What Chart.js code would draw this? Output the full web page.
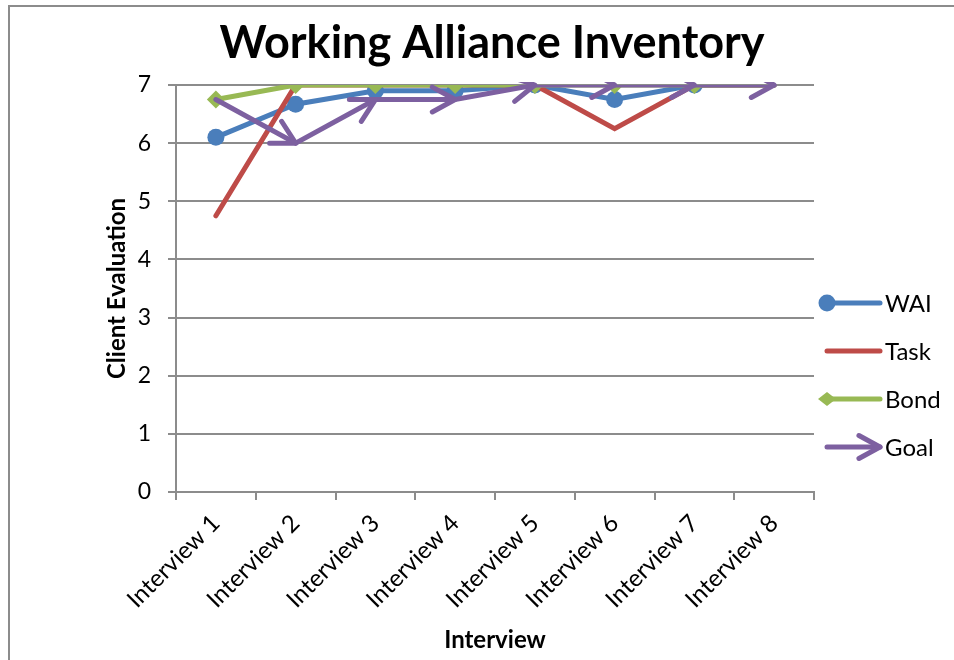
<!DOCTYPE html>
<html>
<head>
<meta charset="utf-8">
<title>Working Alliance Inventory</title>
<script src="https://cdn.jsdelivr.net/npm/chart.js@4/dist/chart.umd.min.js"></script>
<style>
  html, body { margin: 0; padding: 0; background: #fff; }
  #wrap { width: 954px; height: 660px; }
</style>
</head>
<body>
<div id="wrap"><canvas id="waiChart" width="954" height="660"></canvas></div>
<script>
const interviews = ['Interview 1', 'Interview 2', 'Interview 3', 'Interview 4',
  'Interview 5', 'Interview 6', 'Interview 7', 'Interview 8'];
const waiScores = [6.1, 6.67, 6.9, 6.9, 7, 6.75, 7, 7];
const taskScores = [4.75, 7, 7, 7, 7, 6.25, 7, 7];
const bondScores = [6.75, 7, 7, 7, 7, 7, 7, 7];
const goalScores = [6.75, 6, 6.75, 6.75, 7, 7, 7, 7];
const yMin = 0;
const yMax = 7;

const FONT = 'Lato, "Open Sans", sans-serif';
const GRID = '#8c8c8c';

// marker only at the start of each segment (excel line "begin" style)
const startMarks = (r) => interviews.map((_, i) => (i < interviews.length - 1 ? r : 0));

function drawArrowHead(ctx, fx, fy, tx, ty, len, spread) {
  const a = Math.atan2(ty - fy, tx - fx);
  ctx.beginPath();
  ctx.moveTo(tx - len * Math.cos(a - spread), ty - len * Math.sin(a - spread));
  ctx.lineTo(tx, ty);
  ctx.lineTo(tx - len * Math.cos(a + spread), ty - len * Math.sin(a + spread));
  ctx.stroke();
}

// frame + title
const framePlugin = {
  id: 'frame',
  beforeDraw(chart) {
    const ctx = chart.ctx;
    ctx.save();
    ctx.fillStyle = '#fff';
    ctx.fillRect(0, 0, chart.width, chart.height);
    ctx.strokeStyle = GRID;
    ctx.lineWidth = 2;
    ctx.strokeRect(9, 6, chart.width + 20, chart.height + 20);
    ctx.restore();
  },
  afterDraw(chart) {
    const ctx = chart.ctx;
    const area = chart.chartArea;
    ctx.save();
    ctx.fillStyle = '#000';
    ctx.font = 'bold 45px ' + FONT;
    ctx.textAlign = 'center';
    ctx.textBaseline = 'middle';
    ctx.fillText('Working Alliance Inventory', (area.left + area.right) / 2 - 3, 43);
    ctx.restore();
  }
};

// arrow heads on the Goal series, one per segment
const arrowPlugin = {
  id: 'goalArrows',
  afterDatasetsDraw(chart) {
    const ctx = chart.ctx;
    const area = chart.chartArea;
    chart.data.datasets.forEach((ds, di) => {
      if (!ds.arrowEnd) return;
      const pts = chart.getDatasetMeta(di).data;
      ctx.save();
      ctx.beginPath();
      ctx.rect(area.left, area.top - 3, area.right - area.left, area.bottom - area.top + 3);
      ctx.clip();
      ctx.strokeStyle = ds.borderColor;
      ctx.lineWidth = ds.borderWidth;
      ctx.lineCap = 'round';
      ctx.lineJoin = 'round';
      for (let i = 1; i < pts.length; i++) {
        drawArrowHead(ctx, pts[i - 1].x, pts[i - 1].y, pts[i].x, pts[i].y, 26, 0.5);
      }
      ctx.restore();
    });
  }
};

// excel style legend on the right
const legendPlugin = {
  id: 'sideLegend',
  afterDraw(chart) {
    const ctx = chart.ctx;
    const area = chart.chartArea;
    const x0 = area.right + 13;
    const x1 = x0 + 53;
    ctx.save();
    chart.data.datasets.forEach((ds, i) => {
      const y = area.top + 218 + i * 48;
      ctx.strokeStyle = ds.borderColor;
      ctx.fillStyle = ds.borderColor;
      ctx.lineWidth = ds.borderWidth;
      ctx.lineCap = 'round';
      ctx.lineJoin = 'round';
      ctx.beginPath();
      ctx.moveTo(x0, y);
      ctx.lineTo(x1, y);
      ctx.stroke();
      if (ds.pointStyle === 'circle' && ds.legendMark) {
        ctx.beginPath();
        ctx.arc(x0, y, 8.5, 0, Math.PI * 2);
        ctx.fill();
      } else if (ds.pointStyle === 'rectRot' && ds.legendMark) {
        ctx.beginPath();
        ctx.moveTo(x0 - 9, y);
        ctx.lineTo(x0, y - 7);
        ctx.lineTo(x0 + 9, y);
        ctx.lineTo(x0, y + 7);
        ctx.closePath();
        ctx.fill();
      }
      if (ds.arrowEnd) drawArrowHead(ctx, x0, y, x1, y, 24, 0.5);
      ctx.fillStyle = '#000';
      ctx.font = '24px ' + FONT;
      ctx.textAlign = 'left';
      ctx.textBaseline = 'middle';
      ctx.fillText(ds.label, x1 + 5, y + 1);
    });
    ctx.restore();
  }
};

new Chart(document.getElementById('waiChart'), {
  type: 'line',
  data: {
    labels: interviews,
    datasets: [
      {
        label: 'WAI',
        data: waiScores,
        borderColor: '#4a7ebb',
        backgroundColor: '#4a7ebb',
        borderWidth: 5,
        pointStyle: 'circle',
        pointRadius: startMarks(8.5),
        pointBorderWidth: 0,
        legendMark: true,
        order: 3
      },
      {
        label: 'Task',
        data: taskScores,
        borderColor: '#be4b48',
        backgroundColor: '#be4b48',
        borderWidth: 5,
        pointRadius: 0,
        order: 2
      },
      {
        label: 'Bond',
        data: bondScores,
        borderColor: '#98b954',
        backgroundColor: '#98b954',
        borderWidth: 5,
        pointStyle: 'rectRot',
        pointRadius: startMarks(9),
        pointBorderWidth: 0,
        legendMark: true,
        order: 1
      },
      {
        label: 'Goal',
        data: goalScores,
        borderColor: '#7d60a0',
        backgroundColor: '#7d60a0',
        borderWidth: 5,
        pointRadius: 0,
        arrowEnd: true,
        order: 0
      }
    ]
  },
  options: {
    responsive: false,
    animation: false,
    layout: { padding: { top: 85, right: 140, bottom: 0, left: 0 } },
    plugins: {
      legend: { display: false },
      title: { display: false },
      tooltip: { enabled: false }
    },
    elements: { line: { tension: 0, borderCapStyle: 'round', borderJoinStyle: 'miter' } },
    scales: {
      x: {
        offset: true,
        afterFit(scale) { scale.height = 168; },
        grid: { offset: true, drawOnChartArea: false, drawTicks: true, tickLength: 8, color: GRID, lineWidth: 2 },
        border: { display: true, color: GRID, width: 2 },
        ticks: {
          autoSkip: false,
          minRotation: 45,
          maxRotation: 45,
          padding: 9,
          color: '#000',
          font: { family: FONT, size: 24 }
        },
        title: {
          display: true,
          text: 'Interview',
          color: '#000',
          font: { family: FONT, size: 24, weight: 'bold' },
          padding: { top: 0, bottom: 5 }
        }
      },
      y: {
        min: yMin,
        max: yMax,
        afterFit(scale) { scale.width = 176; },
        grid: { color: GRID, lineWidth: 2, tickLength: 8, drawTicks: true },
        border: { display: true, color: GRID, width: 2 },
        ticks: {
          stepSize: 1,
          padding: 17,
          color: '#000',
          font: { family: FONT, size: 23 }
        },
        title: {
          display: true,
          text: 'Client Evaluation',
          color: '#000',
          font: { family: FONT, size: 24, weight: 'bold' },
          padding: { top: 103, bottom: 0 }
        }
      }
    }
  },
  plugins: [framePlugin, arrowPlugin, legendPlugin]
});
</script>
</body>
</html>
